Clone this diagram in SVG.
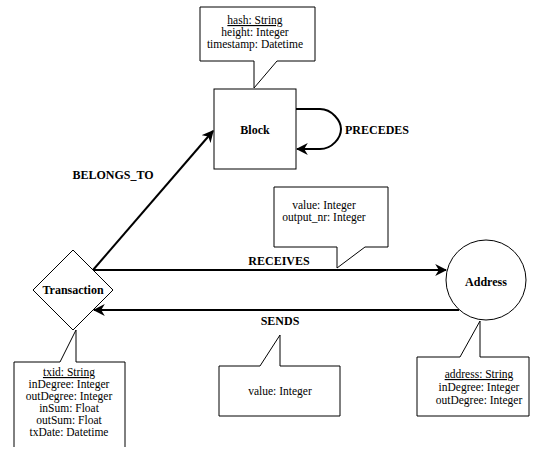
<svg xmlns="http://www.w3.org/2000/svg" width="540" height="450" viewBox="0 0 540 450">
<defs>
<style>
.node{fill:#fff;stroke:#000;stroke-width:1}
.call{fill:#fff;stroke:#000;stroke-width:1}
.edge{fill:none;stroke:#000;stroke-width:2}
.lbl{font-size:12px;font-weight:bold;fill:#000;text-anchor:middle}
.attr{font-size:11.5px;fill:#000;text-anchor:middle}
.u{text-decoration:underline}
</style>
<marker id="arr" viewBox="0 0 10 10" refX="9" refY="5" markerWidth="6" markerHeight="6" markerUnits="strokeWidth" orient="auto">
<path d="M0,0 L10,5 L0,10 L3,5 Z" fill="#000"/>
</marker>
</defs>
<rect width="540" height="450" fill="#fff"/>
<g font-family="'Liberation Serif', 'DejaVu Serif', serif">
<g id="connectors">
<line class="edge" x1="93" y1="270" x2="213" y2="131" marker-end="url(#arr)"/>
<line class="edge" x1="93" y1="270" x2="446" y2="270" marker-end="url(#arr)"/>
<line class="edge" x1="459" y1="310" x2="94" y2="310" marker-end="url(#arr)"/>
<path class="edge" d="M296,109 H320 C332,109 341,121 341,129 C341,138 332,149 320,149 H297" marker-end="url(#arr)"/>
<text class="lbl" x="113" y="179">BELONGS_TO</text>
<text class="lbl" x="279" y="265">RECEIVES</text>
<text class="lbl" x="280" y="325">SENDS</text>
<text class="lbl" x="377" y="134">PRECEDES</text>
</g>
<g id="block">
<rect class="node" x="214" y="89" width="82" height="80"/>
<text class="lbl" x="255" y="134">Block</text>
</g>
<g id="transaction">
<path class="node" d="M73,250 L113,290 L73,330 L33,290 Z"/>
<text class="lbl" x="73" y="294">Transaction</text>
</g>
<g id="address">
<circle class="node" cx="486" cy="280" r="40"/>
<text class="lbl" x="486" y="286">Address</text>
</g>
<g id="block-attrs">
<path class="call" d="M200,7 H315 V61 H277 L254,88 V61 H200 Z"/>
<text class="attr u" x="255" y="24">hash: String</text>
<text class="attr" x="255" y="36">height: Integer</text>
<text class="attr" x="255" y="48">timestamp: Datetime</text>
</g>
<g id="receives-attrs">
<path class="call" d="M274,187 H388 V247 H365 L337,268 V247 H274 Z"/>
<text class="attr" x="324" y="209">value: Integer</text>
<text class="attr" x="324" y="221">output_nr: Integer</text>
</g>
<g id="transaction-attrs">
<path class="call" d="M14,447 V362 H60 L76,330 V362 H125 V447"/>
<text class="attr u" x="69" y="376">txid: String</text>
<text class="attr" x="69" y="388">inDegree: Integer</text>
<text class="attr" x="69" y="400">outDegree: Integer</text>
<text class="attr" x="69" y="412">inSum: Float</text>
<text class="attr" x="69" y="424">outSum: Float</text>
<text class="attr" x="69" y="436">txDate: Datetime</text>
</g>
<g id="sends-attrs">
<path class="call" d="M219,366 H260 L280,335 V366 H340 V416 H219 Z"/>
<text class="attr" x="280" y="395">value: Integer</text>
</g>
<g id="address-attrs">
<path class="call" d="M417,357 H460 L480,321 V357 H529 V416 H417 Z"/>
<text class="attr u" x="479" y="378">address: String</text>
<text class="attr" x="479" y="391">inDegree: Integer</text>
<text class="attr" x="479" y="404">outDegree: Integer</text>
</g>
</g>
</svg>
